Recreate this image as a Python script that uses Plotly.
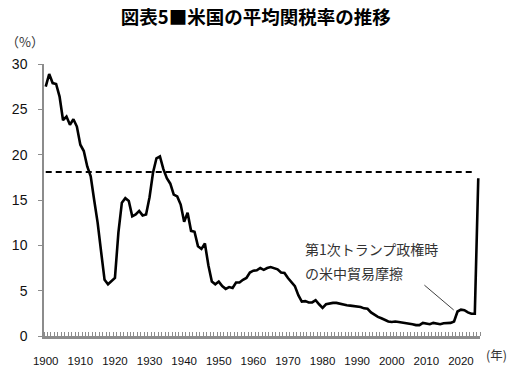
import plotly.graph_objects as go

# ---- data ----
years = list(range(1900, 2026))
tariff_rate = [
    # 1900-1909
    27.5, 28.9, 27.9, 27.8, 26.4, 23.8, 24.2, 23.3, 23.9, 23.1,
    # 1910-1919
    21.1, 20.4, 18.7, 17.6, 15.0, 12.5, 9.3, 6.2, 5.7, 6.1,
    # 1920-1929
    6.4, 11.4, 14.7, 15.2, 14.9, 13.2, 13.4, 13.8, 13.3, 13.4,
    # 1930-1939
    15.3, 18.0, 19.6, 19.8, 18.4, 17.4, 16.8, 15.6, 15.4, 14.5,
    # 1940-1949
    12.6, 13.6, 11.6, 11.5, 9.9, 9.6, 10.2, 7.8, 6.0, 5.7,
    # 1950-1959
    6.0, 5.5, 5.2, 5.4, 5.3, 5.9, 5.9, 6.2, 6.4, 7.0,
    # 1960-1969
    7.2, 7.25, 7.5, 7.3, 7.5, 7.6, 7.45, 7.35, 7.0, 6.95,
    # 1970-1979
    6.4, 6.0, 5.5, 4.5, 3.8, 3.85, 3.7, 3.7, 3.95, 3.5,
    # 1980-1989
    3.1, 3.5, 3.6, 3.65, 3.65, 3.55, 3.5, 3.4, 3.35, 3.3,
    # 1990-1999
    3.3, 3.2, 3.05, 3.0, 2.6, 2.35, 2.1, 1.95, 1.8, 1.6,
    # 2000-2009
    1.55, 1.6, 1.55, 1.5, 1.45, 1.4, 1.3, 1.2, 1.2, 1.45,
    # 2010-2019
    1.35, 1.3, 1.45, 1.4, 1.3, 1.4, 1.45, 1.45, 1.6, 2.7,
    # 2020-2025
    2.9, 2.85, 2.6, 2.45, 2.45, 17.4,
]
ref_level = 18.1
ref_years = [1900, 2024]

tick_years = list(range(1900, 2021, 10))
tick_labels = [str(y) for y in tick_years]

title_text = "図表5■米国の平均関税率の推移"
note_line1 = "第1次トランプ政権時"
note_line2 = "の米中貿易摩擦"
note_text_year = 1974.3
note_line1_value = 9.55
note_line2_value = 6.95
leader_from = (2009.0, 5.75)
leader_to = (2017.9, 2.87)

AXIS_GRAY = "#8c8c8c"
JP_FONT = "Noto Sans CJK JP"
NUM_FONT = "Liberation Sans"

fig = go.Figure()

fig.add_trace(go.Scatter(
    x=ref_years, y=[ref_level] * len(ref_years), mode="lines",
    line=dict(color="#000000", width=2, dash="6px,4px"),
    hoverinfo="skip", showlegend=False,
))
fig.add_trace(go.Scatter(
    x=years, y=tariff_rate, mode="lines",
    line=dict(color="#000000", width=2.6),
    showlegend=False,
))

fig.update_layout(
    width=530, height=376,
    margin=dict(l=44, r=50, t=64, b=39.5, autoexpand=False),
    paper_bgcolor="white", plot_bgcolor="white",
    title=dict(
        text=f"<b>{title_text}</b>",
        x=255.7 / 530, xanchor="center",
        y=1 - 18 / 376, yanchor="middle",
        font=dict(family=JP_FONT, size=18.5, color="#000000"),
        automargin=False,
    ),
    xaxis=dict(
        range=[1899.5, 2025.5], automargin=False,
        tickmode="array", tickvals=tick_years, ticktext=tick_labels,
        ticks="", showgrid=False, zeroline=False,
        showline=True, linecolor=AXIS_GRAY, linewidth=2.5,
        tickfont=dict(family=NUM_FONT, size=11.5, color="#111111"),
        ticklabelstandoff=12,
        minor=dict(tickmode="linear", tick0=1899.5, dtick=1,
                   ticks="inside", ticklen=4, tickwidth=1.2,
                   tickcolor=AXIS_GRAY, showgrid=False),
    ),
    yaxis=dict(
        range=[0, 30], tickmode="linear", tick0=0, dtick=5, automargin=False,
        ticks="outside", ticklen=4, tickwidth=1.2, tickcolor=AXIS_GRAY,
        showgrid=False, zeroline=False,
        showline=True, linecolor=AXIS_GRAY, linewidth=1.5,
        tickfont=dict(family=NUM_FONT, size=14, color="#111111"),
        ticklabelstandoff=8,
    ),
    annotations=[
        dict(text="（%）", xref="paper", yref="paper",
             x=(25 - 44) / 436, y=(376 - 41.7 - 39.5) / 272.5,
             xanchor="center", yanchor="middle", showarrow=False,
             font=dict(family=JP_FONT, size=13, color="#333333")),
        dict(text="(年)", xref="paper", yref="paper",
             x=(497 - 44) / 436, y=(376 - 355 - 39.5) / 272.5,
             xanchor="center", yanchor="middle", showarrow=False,
             font=dict(family=JP_FONT, size=12.5, color="#333333")),
        dict(text=note_line1, x=note_text_year, y=note_line1_value,
             xref="x", yref="y", xanchor="left", yanchor="middle",
             showarrow=False,
             font=dict(family=JP_FONT, size=14, color="#333333")),
        dict(text=note_line2, x=note_text_year, y=note_line2_value,
             xref="x", yref="y", xanchor="left", yanchor="middle",
             showarrow=False,
             font=dict(family=JP_FONT, size=14, color="#333333")),
        dict(text="", x=leader_to[0], y=leader_to[1],
             ax=leader_from[0], ay=leader_from[1],
             xref="x", yref="y", axref="x", ayref="y",
             showarrow=True, arrowhead=0, arrowwidth=1,
             arrowcolor="#404040", standoff=0, startstandoff=0),
    ],
)

fig.write_html(
    "out.html",
    config={"displayModeBar": False},
    post_script="document.body.style.margin='0px';document.body.style.padding='0px';",
)
